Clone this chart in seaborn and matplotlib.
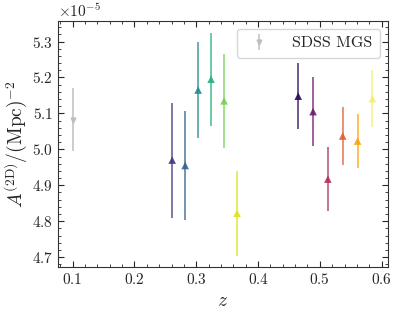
import numpy as np
import pandas as pd
import seaborn as sns
import matplotlib.pyplot as plt

# SDSS MGS reference point
z_mgs = [0.1]
A_mgs = [5.083]
err_mgs = [0.087]

# first redshift set (viridis colours)
z_low = [0.261, 0.282, 0.303, 0.324, 0.345, 0.366]
A_low = [4.970, 4.955, 5.165, 5.195, 5.135, 4.822]
err_low = [0.160, 0.153, 0.133, 0.130, 0.130, 0.118]

# second redshift set (inferno colours)
z_high = [0.465, 0.489, 0.513, 0.537, 0.561, 0.585]
A_high = [5.148, 5.105, 4.917, 5.037, 5.023, 5.141]
err_high = [0.092, 0.095, 0.090, 0.080, 0.075, 0.080]

sns.set_style("ticks")
plt.rcParams['font.family'] = 'serif'
plt.rcParams['font.serif'] = ['cmr10', 'DejaVu Serif']
plt.rcParams['mathtext.fontset'] = 'cm'
plt.rcParams['axes.formatter.use_mathtext'] = True
plt.rcParams['axes.unicode_minus'] = False

fig = plt.figure(figsize=(3.99, 3.15), dpi=100)
ax = fig.add_axes([0.145, 0.152, 0.827, 0.781])

pal_low = [plt.cm.viridis(v) for v in np.linspace(0.15, 0.95, 6)]
pal_high = [plt.cm.inferno(v) for v in np.linspace(0.15, 0.95, 6)]

df = pd.DataFrame({
    'z': z_low + z_high,
    'A': np.array(A_low + A_high) * 1e-5,
    'err': np.array(err_low + err_high) * 1e-5,
    'grp': [f'l{i}' for i in range(6)] + [f'h{i}' for i in range(6)],
})
colors = pal_low + pal_high

for (_, row), c in zip(df.iterrows(), colors):
    ax.errorbar(row['z'], row['A'], yerr=row['err'], fmt='none',
                ecolor=c, elinewidth=1.2, alpha=0.8)
sns.scatterplot(data=df, x='z', y='A', hue='grp', palette=colors, marker='^',
                s=30, edgecolor='none', alpha=0.9, legend=False, ax=ax)

ax.errorbar(z_mgs, np.array(A_mgs) * 1e-5, yerr=np.array(err_mgs) * 1e-5,
            fmt='v', color='#bdbdbd', markersize=3.5, elinewidth=1.2,
            alpha=0.9, label='SDSS MGS')

ax.set_xlim(0.076, 0.61)
ax.set_ylim(4.672e-5, 5.357e-5)
ax.set_xticks([0.1, 0.2, 0.3, 0.4, 0.5, 0.6])
ax.set_yticks(np.array([4.7, 4.8, 4.9, 5.0, 5.1, 5.2, 5.3]) * 1e-5)
ax.minorticks_on()
ax.tick_params(which='both', direction='in', top=True, right=True, labelsize=11)
ax.tick_params(which='major', length=4)
ax.tick_params(which='minor', length=2)
ax.yaxis.get_offset_text().set_fontsize(11)
for s in ax.spines.values():
    s.set_linewidth(0.8)
    s.set_color('#333333')

ax.set_xlabel('$z$', fontsize=14)
ax.set_ylabel(r'$A^{(2\mathrm{D})}/(\mathrm{Mpc})^{-2}$', fontsize=14, labelpad=2)
ax.legend(loc='upper right', fontsize=11.5, frameon=True, handletextpad=1.2,
          borderpad=0.45, handlelength=1.8)

fig.savefig('out.png', dpi=100)
